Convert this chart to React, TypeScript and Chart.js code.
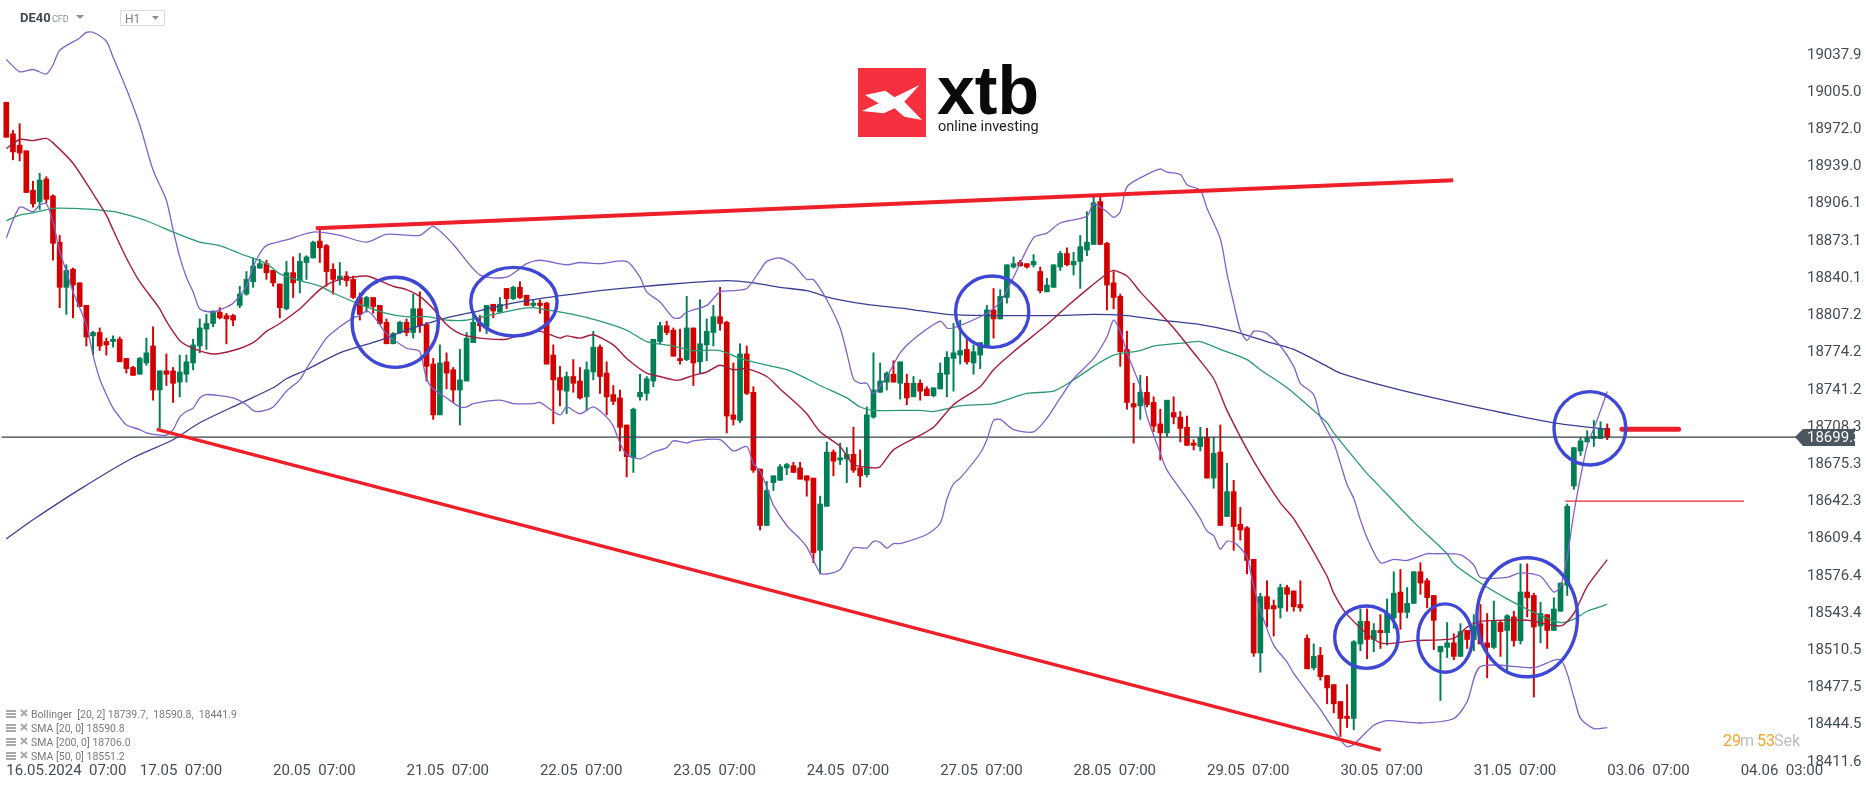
import React, { useRef, useEffect } from 'react';
import Chart from 'chart.js/auto';

// hourly candles, one session is 20 bars
const opens = [
  18996,18968,18958,18953,18918,18908,18928,18913,18872,18832,18848,18836,18816,18789,18792,18784,18784,18786,18769,18761,
  18755,18765,18780,18741,18758,18758,18748,18755,18765,18780,18795,18800,18810,18807,18807,18816,18826,18837,18849,18853,
  18847,18835,18813,18845,18838,18854,18858,18873,18869,18848,18839,18842,18839,18823,18815,18823,18816,18801,18782,18792,
  18801,18792,18813,18799,18764,18719,18766,18759,18741,18749,18783,18800,18797,18817,18810,18831,18822,18832,18825,18816,
  18818,18818,18772,18752,18740,18753,18749,18735,18757,18779,18756,18737,18734,18710,18681,18735,18738,18749,18784,18798,
  18794,18769,18768,18796,18766,18781,18792,18806,18801,18719,18714,18773,18739,18671,18621,18659,18661,18672,18674,18672,
  18665,18663,18599,18638,18686,18679,18680,18684,18672,18666,18717,18739,18748,18755,18747,18747,18735,18747,18742,18736,
  18742,18755,18769,18772,18777,18765,18772,18780,18812,18804,18823,18850,18854,18853,18852,18846,18828,18832,18850,18862,
  18852,18855,18865,18870,18908,18871,18836,18824,18777,18729,18727,18739,18730,18711,18703,18721,18717,18708,18694,18691,
  18699,18663,18686,18629,18651,18622,18619,18591,18508,18558,18550,18548,18566,18563,18551,18521,18495,18506,18488,18480,
  18465,18452,18450,18516,18536,18520,18528,18526,18539,18562,18544,18552,18580,18572,18559,18509,18513,18517,18505,18528,
  18520,18534,18517,18513,18535,18528,18540,18519,18562,18559,18532,18542,18528,18545,18568,18656,18687,18695,18698,18698,
  18707,
];
const highs = [
  18996,18971,18977,18953,18926,18933,18930,18914,18878,18852,18849,18836,18816,18793,18796,18787,18789,18788,18769,18762,
  18770,18787,18797,18758,18773,18761,18772,18772,18786,18804,18808,18811,18814,18809,18808,18833,18846,18858,18857,18856,
  18847,18835,18855,18859,18862,18860,18873,18883,18870,18853,18854,18846,18842,18827,18824,18823,18816,18804,18792,18802,
  18804,18826,18828,18801,18769,18781,18774,18761,18777,18792,18808,18807,18816,18817,18823,18831,18833,18837,18825,18821,
  18821,18819,18781,18762,18757,18768,18761,18766,18793,18781,18766,18745,18741,18710,18725,18755,18753,18786,18801,18802,
  18796,18795,18824,18796,18821,18804,18816,18832,18802,18765,18782,18780,18744,18671,18660,18665,18675,18676,18677,18677,
  18665,18663,18647,18695,18688,18694,18690,18708,18688,18726,18774,18765,18757,18767,18766,18755,18753,18750,18744,18743,
  18765,18775,18800,18803,18787,18781,18783,18816,18831,18830,18852,18859,18856,18853,18861,18850,18840,18852,18864,18867,
  18863,18878,18899,18912,18912,18872,18846,18826,18793,18747,18754,18753,18735,18724,18732,18735,18722,18718,18697,18708,
  18707,18699,18710,18676,18661,18637,18620,18591,18561,18572,18555,18569,18568,18563,18572,18524,18516,18513,18488,18480,
  18465,18480,18519,18547,18547,18534,18542,18556,18580,18582,18566,18580,18588,18574,18559,18514,18535,18525,18534,18528,
  18542,18551,18543,18554,18537,18542,18545,18587,18587,18561,18553,18542,18557,18570,18640,18690,18699,18705,18714,18713,
  18711,
];
const lows = [
  18965,18945,18944,18916,18903,18901,18907,18856,18814,18808,18805,18815,18780,18772,18776,18772,18779,18766,18756,18754,
  18755,18763,18732,18707,18745,18730,18735,18748,18759,18774,18777,18797,18804,18782,18798,18814,18825,18832,18849,18839,
  18833,18805,18812,18823,18827,18839,18858,18854,18833,18826,18834,18833,18822,18803,18810,18809,18799,18782,18782,18791,
  18789,18787,18792,18749,18715,18719,18742,18730,18710,18749,18783,18793,18791,18805,18810,18813,18821,18822,18816,18814,
  18809,18764,18711,18727,18720,18739,18733,18723,18750,18738,18719,18728,18687,18664,18668,18732,18732,18744,18782,18790,
  18771,18764,18767,18745,18756,18767,18780,18794,18703,18710,18712,18737,18668,18617,18621,18652,18661,18666,18668,18662,
  18647,18588,18578,18638,18665,18675,18659,18668,18655,18664,18716,18739,18741,18748,18733,18728,18735,18732,18736,18735,
  18742,18735,18740,18764,18764,18755,18760,18780,18787,18804,18818,18849,18851,18849,18850,18827,18828,18832,18847,18851,
  18843,18831,18860,18870,18870,18812,18813,18762,18724,18694,18715,18726,18704,18679,18700,18711,18695,18692,18688,18687,
  18663,18654,18621,18629,18599,18608,18578,18505,18491,18531,18523,18539,18545,18545,18545,18494,18493,18484,18463,18455,
  18434,18442,18440,18510,18503,18509,18512,18515,18530,18529,18539,18552,18560,18548,18511,18466,18504,18502,18505,18512,
  18510,18516,18486,18512,18505,18493,18514,18516,18540,18469,18517,18512,18528,18545,18559,18653,18683,18695,18691,18698,
  18697,
];
const closes = [
  18965,18952,18951,18916,18906,18927,18910,18871,18832,18847,18834,18815,18788,18792,18780,18781,18786,18766,18760,18754,
  18769,18774,18741,18758,18755,18747,18757,18766,18781,18796,18800,18811,18805,18804,18803,18826,18839,18851,18853,18845,
  18836,18814,18845,18836,18855,18859,18872,18867,18846,18839,18842,18838,18823,18808,18823,18815,18800,18782,18791,18801,
  18792,18813,18798,18762,18719,18765,18756,18741,18750,18787,18801,18798,18816,18811,18817,18822,18832,18823,18816,18818,
  18816,18764,18750,18741,18753,18747,18734,18759,18779,18753,18735,18731,18708,18682,18724,18739,18751,18786,18798,18792,
  18771,18767,18796,18765,18782,18793,18806,18800,18718,18715,18773,18738,18670,18621,18652,18665,18673,18675,18668,18662,
  18661,18597,18640,18686,18678,18681,18684,18670,18665,18719,18741,18749,18756,18748,18766,18734,18747,18740,18736,18743,
  18756,18770,18774,18776,18766,18775,18783,18812,18804,18824,18852,18853,18851,18850,18855,18829,18834,18852,18862,18852,
  18855,18868,18872,18907,18870,18834,18823,18775,18730,18726,18739,18728,18709,18703,18732,18717,18707,18692,18692,18699,
  18663,18685,18621,18651,18620,18617,18590,18508,18558,18547,18547,18566,18560,18549,18548,18494,18505,18487,18477,18463,
  18450,18450,18518,18536,18520,18528,18526,18543,18561,18544,18552,18580,18570,18557,18537,18514,18517,18505,18527,18520,
  18532,18516,18513,18536,18527,18541,18519,18562,18557,18531,18543,18528,18547,18570,18638,18690,18696,18699,18700,18707,
  18699,
];

// indicators, read at the bars where the curve changes direction
const upperBandAt = [0,2,4,6,7,8,11,12,13,15,16,18,20,22,24,25,26,27,28,29,31,32,34,36,37,38,39,42,46,50,54,57,62,64,67,71,75,78,80,84,86,89,93,95,96,98,100,101,102,105,107,109,111,113,114,116,118,120,121,123,125,126,127,128,129,130,132,134,136,140,141,142,147,149,151,154,156,158,162,163,165,166,167,168,170,173,174,176,177,179,180,182,183,184,185,186,187,188,189,191,193,194,196,197,199,200,201,202,203,204,206,208,210,213,214,218,220,221,225,227,230,232,233,234,235,236,237,238,239,240];
const upperBand = [19034,19023,19025,19021,19029,19042,19053,19058,19058,19050,19036,19008,18976,18936,18909,18883,18859,18841,18828,18813,18810,18812,18818,18833,18850,18862,18869,18874,18881,18878,18872,18879,18878,18886,18870,18843,18841,18853,18856,18852,18854,18853,18855,18841,18828,18819,18805,18805,18810,18816,18828,18829,18831,18847,18855,18858,18852,18839,18839,18821,18796,18774,18751,18747,18747,18738,18753,18774,18786,18802,18796,18796,18809,18819,18841,18876,18880,18889,18895,18906,18899,18894,18899,18921,18929,18937,18934,18932,18923,18918,18902,18875,18844,18818,18794,18785,18793,18793,18791,18780,18762,18747,18737,18717,18694,18676,18657,18645,18626,18610,18588,18591,18590,18596,18596,18595,18586,18575,18575,18579,18576,18562,18567,18593,18632,18664,18692,18707,18723,18739.7];
const lowerBandAt = [0,2,4,5,6,7,8,9,10,12,13,14,15,16,17,18,20,21,23,24,25,26,27,28,29,30,32,34,36,37,38,40,42,44,45,48,50,52,53,54,55,57,60,61,62,63,64,66,68,69,70,74,76,79,80,83,84,86,88,90,91,92,93,95,97,99,100,102,103,107,109,111,112,113,114,115,117,119,120,122,123,125,127,129,130,131,132,133,134,138,140,141,142,143,146,147,148,149,151,154,156,158,160,163,165,166,167,168,170,171,173,174,177,179,180,181,182,183,184,185,186,187,188,190,192,193,197,198,199,200,201,202,205,207,212,217,219,221,229,233,235,236,238,240];
const lowerBand = [18876,18903,18899,18905,18906,18890,18864,18846,18828,18799,18772,18751,18737,18725,18717,18710,18706,18703,18701,18701,18706,18717,18722,18725,18734,18737,18736,18734,18728,18723,18722,18726,18740,18750,18760,18787,18797,18805,18807,18811,18807,18791,18778,18777,18775,18751,18742,18734,18726,18726,18729,18732,18729,18729,18730,18719,18726,18720,18726,18717,18709,18694,18684,18680,18686,18690,18696,18694,18696,18697,18687,18691,18676,18669,18655,18639,18621,18609,18602,18579,18578,18582,18601,18601,18607,18606,18601,18605,18605,18613,18623,18644,18658,18663,18685,18697,18714,18715,18706,18704,18716,18734,18751,18769,18788,18803,18793,18774,18744,18718,18685,18670,18645,18627,18616,18612,18600,18607,18606,18601,18593,18567,18546,18515,18500,18490,18458,18449,18440,18431,18425,18427,18444,18448,18446,18450,18465,18496,18495,18502,18469,18450,18441,18441.9];
const sma20At = [0,2,4,6,7,10,13,15,16,18,20,23,24,26,28,31,34,37,39,41,44,47,49,52,54,56,58,60,62,64,66,68,71,75,77,80,83,84,86,88,91,93,96,98,100,101,103,105,107,109,111,114,116,119,120,122,125,127,130,131,133,137,139,142,146,148,151,156,159,162,165,166,168,170,173,175,178,181,183,187,191,193,198,199,201,206,211,217,219,221,228,233,235,237,240];
const sma20 = [18955,18963,18962,18964,18960,18942,18915,18896,18883,18858,18837,18813,18802,18785,18778,18773,18776,18783,18793,18800,18813,18830,18837,18841,18842,18838,18833,18830,18824,18813,18799,18791,18787,18786,18790,18793,18787,18789,18787,18790,18781,18769,18756,18753,18750,18750,18754,18757,18763,18759,18760,18753,18742,18726,18720,18704,18691,18675,18672,18673,18688,18701,18708,18728,18744,18759,18775,18799,18815,18830,18844,18847,18842,18828,18809,18796,18774,18751,18723,18678,18641,18627,18576,18561,18542,18517,18519,18521,18531,18536,18537,18532,18543,18567,18590.8];
const sma50At = [0,2,4,7,10,13,17,21,25,29,32,35,39,41,44,47,49,53,57,60,63,66,69,73,77,79,81,85,89,93,96,100,103,107,110,114,117,120,122,126,128,130,137,139,143,148,153,157,160,163,166,170,172,177,179,182,186,188,192,195,198,199,204,205,211,216,217,221,225,229,233,235,237,239,240];
const sma50 = [18891,18896,18898,18902,18902,18901,18898,18891,18881,18872,18869,18862,18853,18844,18838,18833,18827,18817,18809,18806,18806,18803,18803,18808,18813,18814,18812,18808,18802,18794,18784,18780,18776,18776,18769,18763,18759,18751,18745,18734,18726,18723,18723,18722,18727,18729,18738,18740,18750,18762,18772,18776,18780,18783,18784,18777,18768,18759,18743,18728,18712,18703,18667,18661,18624,18596,18587,18570,18556,18544,18535,18538,18545,18549,18551.2];
const sma200At = [0,4,11,19,25,29,35,40,42,45,50,56,60,66,70,75,80,85,89,94,102,108,112,116,120,124,129,135,141,148,157,163,168,173,179,184,189,193,198,200,207,217,225,232,240];
const sma200 = [18609,18626,18653,18681,18697,18712,18729,18743,18751,18759,18774,18785,18794,18805,18810,18817,18822,18826,18829,18832,18836,18838,18836,18832,18829,18822,18817,18813,18808,18807,18807,18808,18807,18803,18799,18793,18784,18777,18762,18756,18744,18730,18720,18712,18706];

// drawn trend lines, as [bar, price] ends
const resistanceLine = [[46.4, 18884.3], [216.9, 18926.9]];
const supportLine = [[22.55, 18706.2], [206.05, 18421.9]];
const levelLine = [[233.7, 18642.5], [260.5, 18642.5]];
const stubLine = [[242.2, 18706.3], [250.7, 18706.3]];

// hand-drawn circles: bar, price, half width in bars, half height in points
const circleBars = [58.3, 76.1, 147.8, 203.9, 215.7, 228, 237.4];
const circlePrices = [18801, 18819.3, 18810.4, 18522, 18521.2, 18539.7, 18707.1];
const circleWidths = [6.46, 6.47, 5.49, 4.76, 4.08, 7.54, 5.38];
const circleHeights = [39.9, 30.4, 31.6, 27.6, 30.3, 52.7, 32.5];

const priceTicks = [19037.9,19005.0,18972.0,18939.0,18906.1,18873.1,18840.1,18807.2,18774.2,18741.2,18708.3,18675.3,18642.3,18609.4,18576.4,18543.4,18510.5,18477.5,18444.5,18411.6];
const timeTicks = [0,20,40,60,80,100,120,140,160,180,200,220,240,260];
const timeLabels = ['16.05.2024  07:00','17.05  07:00','20.05  07:00','21.05  07:00','22.05  07:00','23.05  07:00','24.05  07:00','27.05  07:00','28.05  07:00','29.05  07:00','30.05  07:00','31.05  07:00','03.06  07:00','04.06  03:00'];
const legendLines = ['Bollinger  [20, 2] 18739.7,  18590.8,  18441.9','SMA [20, 0] 18590.8','SMA [200, 0] 18706.0','SMA [50, 0] 18551.2'];
const lastPrice = 18699.3;

const UP = '#007f56';
const DOWN = '#d40000';
const NARROW = '"Liberation Sans Narrow", Roboto, sans-serif';

const pairs = (xs: number[], ys: number[]) => xs.map((x, i) => ({ x, y: ys[i] }));
const ends = (line: number[][]) => line.map(p => ({ x: p[0], y: p[1] }));

const overlay = {
    id: 'overlay',
    afterDraw: (chart: Chart) => {
        const { ctx, scales: { x, y } } = chart;
        ctx.save();

        // --- circles ---
        ctx.strokeStyle = '#3f48d4';
        ctx.lineWidth = 3.4;
        circleBars.forEach((bar, i) => {
            const cx = x.getPixelForValue(bar);
            const cy = y.getPixelForValue(circlePrices[i]);
            const rx = Math.abs(x.getPixelForValue(bar + circleWidths[i]) - cx);
            const ry = Math.abs(y.getPixelForValue(circlePrices[i] + circleHeights[i]) - cy);
            ctx.beginPath();
            ctx.ellipse(cx, cy, rx, ry, 0, 0, Math.PI * 2);
            ctx.stroke();
        });

        // --- logo ---
        ctx.fillStyle = '#f7303f';
        ctx.fillRect(858, 68, 68, 69);
        ctx.fillStyle = '#fff';
        ctx.beginPath();
        ctx.moveTo(865, 95);
        ctx.lineTo(885.4, 90.7);
        ctx.lineTo(894.5, 97.3);
        ctx.lineTo(919.5, 85);
        ctx.lineTo(904.3, 101.7);
        ctx.lineTo(922, 120);
        ctx.lineTo(904.3, 116.7);
        ctx.lineTo(894.5, 108.3);
        ctx.lineTo(883.8, 113.3);
        ctx.lineTo(862, 111);
        ctx.lineTo(878.7, 103.3);
        ctx.closePath();
        ctx.fill();
        ctx.fillStyle = '#0a0a0a';
        ctx.textBaseline = 'alphabetic';
        ctx.textAlign = 'left';
        ctx.font = 'bold 68px "Liberation Sans", sans-serif';
        ctx.fillText('xtb', 937, 114);
        ctx.fillStyle = '#222';
        ctx.font = '14.5px ' + NARROW;
        ctx.fillText('online investing', 938, 131);

        // --- header ---
        ctx.fillStyle = '#3d4852';
        ctx.font = 'bold 13px ' + NARROW;
        ctx.textBaseline = 'middle';
        ctx.fillText('DE40', 20, 19);
        ctx.fillStyle = '#8a9097';
        ctx.font = '9px ' + NARROW;
        ctx.fillText('CFD', 52, 20);
        ctx.fillStyle = '#8d8d8d';
        [[76, 84, 15], [152, 159, 16]].forEach(([a, b, top]) => {
            ctx.beginPath();
            ctx.moveTo(a, top);
            ctx.lineTo(b, top);
            ctx.lineTo((a + b) / 2, top + 4);
            ctx.closePath();
            ctx.fill();
        });
        ctx.strokeStyle = '#dcdcdc';
        ctx.lineWidth = 1;
        ctx.strokeRect(120.5, 10.5, 44, 15);
        ctx.fillStyle = '#7d7d7d';
        ctx.font = '12px ' + NARROW;
        ctx.fillText('H1', 125, 20);

        // --- indicator legend ---
        legendLines.forEach((line, i) => {
            const ly = 714 + i * 14;
            ctx.fillStyle = '#a9a9a9';
            [-4, -1, 2].forEach(d => ctx.fillRect(6, ly + d, 10, 2));
            ctx.strokeStyle = '#a9a9a9';
            ctx.lineWidth = 2;
            ctx.beginPath();
            ctx.moveTo(21, ly - 4);
            ctx.lineTo(27, ly + 2);
            ctx.moveTo(27, ly - 4);
            ctx.lineTo(21, ly + 2);
            ctx.stroke();
            ctx.fillStyle = '#7a7a7a';
            ctx.font = '10.5px ' + NARROW;
            ctx.fillText(line, 31, ly + 1);
        });

        // --- candle countdown ---
        ctx.font = '16px ' + NARROW;
        ctx.fillStyle = '#f5a32a';
        ctx.fillText('29', 1723, 742);
        ctx.fillText('53', 1757, 742);
        ctx.fillStyle = '#bdbdbd';
        ctx.fillText('m', 1740, 742);
        ctx.fillText('Sek', 1774, 742);

        // --- last price tag ---
        const py = y.getPixelForValue(lastPrice);
        ctx.fillStyle = '#4a5660';
        ctx.beginPath();
        ctx.moveTo(1795, py);
        ctx.lineTo(1803, py - 8);
        ctx.lineTo(1855, py - 8);
        ctx.lineTo(1855, py + 9);
        ctx.lineTo(1803, py + 9);
        ctx.closePath();
        ctx.fill();
        ctx.fillStyle = '#fff';
        ctx.font = '15px ' + NARROW;
        ctx.fillText(lastPrice.toFixed(1), 1807, py + 1);

        ctx.restore();
    },
};

const App: React.FC = () => {
    const canvasRef = useRef<HTMLCanvasElement | null>(null);

    useEffect(() => {
        if (!canvasRef.current) return;
        const colors = closes.map((c, i) => (c >= opens[i] ? UP : DOWN));
        const lineBase = { type: 'line', pointRadius: 0, tension: 0.25, fill: false };

        const chart = new Chart(canvasRef.current, {
            type: 'bar',
            data: {
                datasets: [
                    {
                        label: 'Wicks',
                        data: closes.map((_, i) => ({ x: i, y: [lows[i], highs[i]] })),
                        backgroundColor: colors,
                        barThickness: 1.3,
                        grouped: false,
                        order: 5,
                    },
                    {
                        label: 'Bodies',
                        data: closes.map((c, i) => ({ x: i, y: [opens[i], c] })),
                        backgroundColor: colors,
                        barThickness: 5,
                        grouped: false,
                        order: 4,
                    },
                    { ...lineBase, label: 'Bollinger upper', data: pairs(upperBandAt, upperBand), borderColor: '#7f62cc', borderWidth: 1.3, order: 2 },
                    { ...lineBase, label: 'Bollinger lower', data: pairs(lowerBandAt, lowerBand), borderColor: '#7f62cc', borderWidth: 1.3, order: 2 },
                    { ...lineBase, label: 'SMA 20', data: pairs(sma20At, sma20), borderColor: '#a61c3c', borderWidth: 1.4, order: 2 },
                    { ...lineBase, label: 'SMA 50', data: pairs(sma50At, sma50), borderColor: '#2a9a72', borderWidth: 1.3, order: 2 },
                    { ...lineBase, label: 'SMA 200', data: pairs(sma200At, sma200), borderColor: '#3b3f94', borderWidth: 1.3, order: 2 },
                    { ...lineBase, label: 'Last price', data: [{ x: -0.7, y: lastPrice }, { x: 268.9, y: lastPrice }], borderColor: '#39434c', borderWidth: 1.2, tension: 0, order: 3 },
                    { ...lineBase, label: 'Resistance', data: ends(resistanceLine), borderColor: '#ef1f2a', borderWidth: 4, tension: 0, order: 1 },
                    { ...lineBase, label: 'Support', data: ends(supportLine), borderColor: '#ef1f2a', borderWidth: 3.5, tension: 0, order: 1 },
                    { ...lineBase, label: 'Level', data: ends(levelLine), borderColor: '#dd2a34', borderWidth: 1.3, tension: 0, order: 1 },
                    { ...lineBase, label: 'Stub', data: ends(stubLine), borderColor: '#ef1f2a', borderWidth: 5, borderCapStyle: 'round', tension: 0, order: 1 },
                ],
            } as any,
            plugins: [overlay],
            options: {
                animation: false,
                responsive: false,
                devicePixelRatio: 1,
                layout: { padding: 0 },
                plugins: { legend: { display: false }, tooltip: { enabled: false } },
                scales: {
                    x: {
                        type: 'linear',
                        offset: false,
                        min: -0.945,
                        max: 268.9,
                        grid: { display: false, drawTicks: false },
                        border: { display: false },
                        afterBuildTicks: (axis: any) => { axis.ticks = timeTicks.map(value => ({ value })); },
                        afterFit: (axis: any) => {
                            axis.height = 27;
                            axis.paddingLeft = 0;
                            axis.paddingRight = 0;
                        },
                        ticks: {
                            autoSkip: false,
                            maxRotation: 0,
                            align: 'start',
                            padding: 2,
                            color: '#444c55',
                            font: { family: NARROW, size: 15 },
                            callback: (v: any) => timeLabels[timeTicks.indexOf(v)],
                        },
                    },
                    y: {
                        position: 'right',
                        min: 18413.2,
                        max: 19086.6,
                        grid: { display: false, drawTicks: false },
                        border: { display: false },
                        afterBuildTicks: (axis: any) => { axis.ticks = priceTicks.map(value => ({ value })); },
                        afterFit: (axis: any) => {
                            axis.width = 66;
                            axis.paddingTop = 0;
                            axis.paddingBottom = 0;
                        },
                        ticks: {
                            autoSkip: false,
                            padding: 7,
                            color: '#444c55',
                            font: { family: NARROW, size: 15 },
                            callback: (v: any) => Number(v).toFixed(1),
                        },
                    },
                },
            },
        } as any);

        return () => chart.destroy();
    }, []);

    return (
        <div style={{ position: 'absolute', left: 0, top: 0, width: 1866, height: 787, background: '#fff' }}>
            <canvas ref={canvasRef} width={1866} height={787} style={{ display: 'block' }}></canvas>
        </div>
    );
};

export default App;
